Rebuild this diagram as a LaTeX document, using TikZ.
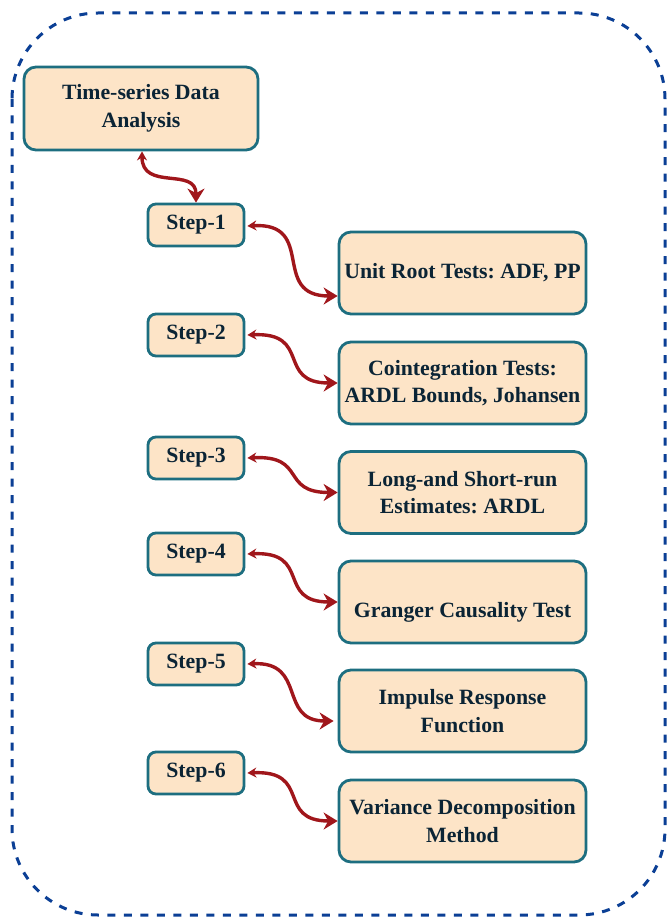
\documentclass[tikz,border=0pt]{standalone}
\usepackage{fontspec}
\setmainfont{Liberation Serif}
\usetikzlibrary{arrows.meta,calc}
\definecolor{peach}{HTML}{FDE4C7}
\definecolor{tealb}{HTML}{1D6E80}
\definecolor{navytxt}{HTML}{0B2435}
\definecolor{arrred}{HTML}{A0161B}
\definecolor{dashblue}{HTML}{0B3F95}
\frenchspacing
\begin{document}
\begin{tikzpicture}[x=1pt,y=-1pt,
  box/.style={draw=tealb, line width=2.8pt, fill=peach, rounded corners=12pt,
    text=navytxt, font=\fontsize{21.8}{27.5}\selectfont\bfseries, align=center,
    inner sep=0pt},
  topbox/.style={box, minimum width=234pt, minimum height=83pt},
  stepbox/.style={box, minimum width=96pt, minimum height=42pt, rounded corners=8pt},
  resbox/.style={box, minimum width=247pt, minimum height=82pt},
  link/.style={draw=arrred, line width=3.4pt,
    {Stealth[length=9pt,width=10pt]}-{Stealth[length=14pt,width=17pt]}}]
\useasboundingbox (0,0) rectangle (666,917);
\draw[dashblue, line width=3pt, dash pattern=on 8pt off 8.5pt, rounded corners=86pt]
  (12,13) rectangle (665,915);

\node[topbox] (top) at (141,108.5) {Time-series Data\\Analysis};

\node[stepbox] (s1) at (196,225) {Step-1};
\node[stepbox] (s2) at (196,335) {Step-2};
\node[stepbox] (s3) at (196,458) {Step-3};
\node[stepbox] (s4) at (196,554) {Step-4};
\node[stepbox] (s5) at (196,664) {Step-5};
\node[stepbox] (s6) at (196,773) {Step-6};

\node[resbox] (r1) at (462.5,273) {Unit Root Tests: ADF, PP};
\node[resbox] (r2) at (462.5,383) {Cointegration Tests:\\ARDL Bounds, Johansen};
\node[resbox] (r3) at (462.5,492.5) {Long-and Short-run\\Estimates: ARDL};
\node[resbox] (r4) at (462.5,602) {\raisebox{-10pt}[\height][\depth]{Granger Causality Test}};
\node[resbox] (r5) at (462.5,711) {Impulse Response\\Function};
\node[resbox] (r6) at (462.5,821) {Variance Decomposition\\Method};

\draw[link] ([xshift=1pt]top.south) .. controls +(0,40) and +(0,-36) .. (s1.north);
\draw[link] ([xshift=2pt,yshift=-1pt]s1.east) .. controls +(70,-4) and +(-68,0) .. ([yshift=-23pt]r1.west);
\draw[link] ([xshift=2pt]s2.east) .. controls +(65,-3) and +(-62,0) .. (r2.west);
\draw[link] ([xshift=2pt]s3.east) .. controls +(60,-3) and +(-58,0) .. (r3.west);
\draw[link] ([xshift=2pt]s4.east) .. controls +(65,-3) and +(-62,0) .. (r4.west);
\draw[link] ([xshift=2pt]s5.east) .. controls +(60,-3) and +(-56,0) .. ([yshift=-10pt,xshift=-4pt]r5.west);
\draw[link] ([xshift=2pt]s6.east) .. controls +(65,-3) and +(-62,0) .. (r6.west);
\end{tikzpicture}
\end{document}
